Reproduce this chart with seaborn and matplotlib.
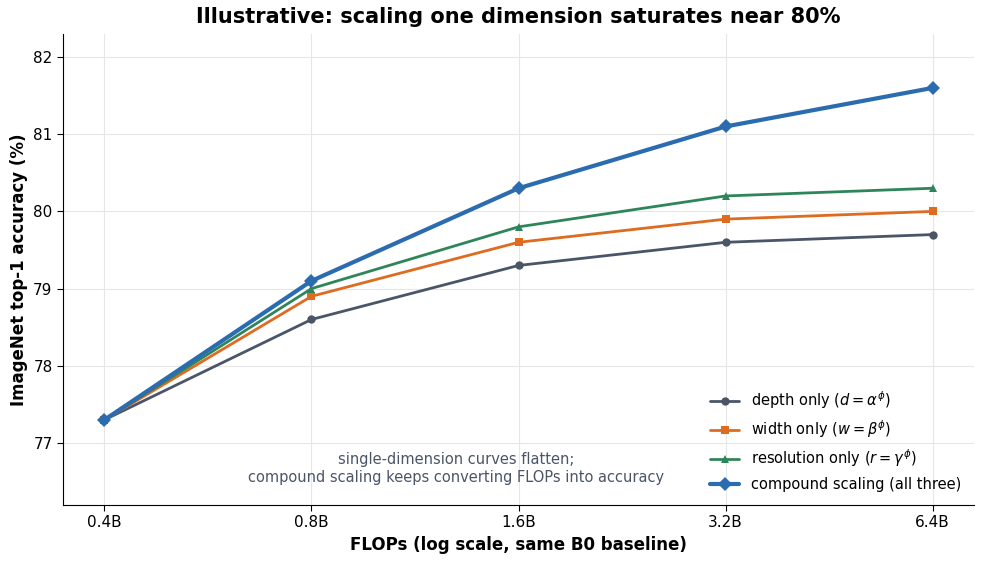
import matplotlib
matplotlib.use("Agg")
import matplotlib.pyplot as plt
import pandas as pd
import seaborn as sns

# FLOPs in billions (log scale)
flops = [0.4, 0.8, 1.6, 3.2, 6.4]
tick_labels = ["0.4B", "0.8B", "1.6B", "3.2B", "6.4B"]

depth_acc = [77.3, 78.6, 79.3, 79.6, 79.7]
width_acc = [77.3, 78.9, 79.6, 79.9, 80.0]
resolution_acc = [77.3, 79.0, 79.8, 80.2, 80.3]
compound_acc = [77.3, 79.1, 80.3, 81.1, 81.6]

series_names = [
    r"depth only ($d=\alpha^{\phi}$)",
    r"width only ($w=\beta^{\phi}$)",
    r"resolution only ($r=\gamma^{\phi}$)",
    "compound scaling (all three)",
]
colors = ["#4a5568", "#dd6b20", "#2f855a", "#2b6cb0"]
markers = ["o", "s", "^", "D"]
widths = [2, 2, 2, 3]
msizes = [6, 6, 6, 7]

df = pd.DataFrame({
    "flops": flops * 4,
    "acc": depth_acc + width_acc + resolution_acc + compound_acc,
    "series": sum([[n] * len(flops) for n in series_names], []),
})

sns.set_style("white")
plt.rcParams.update({"text.color": "black", "axes.labelcolor": "black",
                     "xtick.color": "black", "ytick.color": "black"})
fig, ax = plt.subplots(figsize=(9.84, 5.64), dpi=100)
fig.subplots_adjust(left=0.064, right=0.99, top=0.94, bottom=0.105)

for name, c, m, lw, ms in zip(series_names, colors, markers, widths, msizes):
    sub = df[df["series"] == name]
    sns.lineplot(data=sub, x="flops", y="acc", ax=ax, color=c, marker=m,
                 linewidth=lw, markersize=ms, markeredgewidth=0, label=name)

ax.set_xscale("log")
ax.set_xticks(flops)
ax.set_xticklabels(tick_labels)
ax.minorticks_off()
ax.set_ylim(76.2, 82.3)
ax.tick_params(axis="both", labelsize=11, length=4, color="black", left=True, bottom=True)
ax.grid(True, color="#e6e6e6", linewidth=0.8)
for s in ["top", "right"]:
    ax.spines[s].set_visible(False)
for s in ["left", "bottom"]:
    ax.spines[s].set_color("black")

ax.set_xlabel("FLOPs (log scale, same B0 baseline)", fontsize=12, fontweight="bold")
ax.set_ylabel("ImageNet top-1 accuracy (%)", fontsize=12, fontweight="bold")
ax.set_title("Illustrative: scaling one dimension saturates near 80%",
             fontsize=15, fontweight="bold", pad=8)

ax.text(1.3, 76.67, "single-dimension curves flatten;\ncompound scaling keeps converting FLOPs into accuracy",
        ha="center", va="center", fontsize=10.5, color="#4a5568")

ax.legend(loc="lower right", frameon=False, fontsize=10.5)

plt.savefig("out.png", dpi=100)
